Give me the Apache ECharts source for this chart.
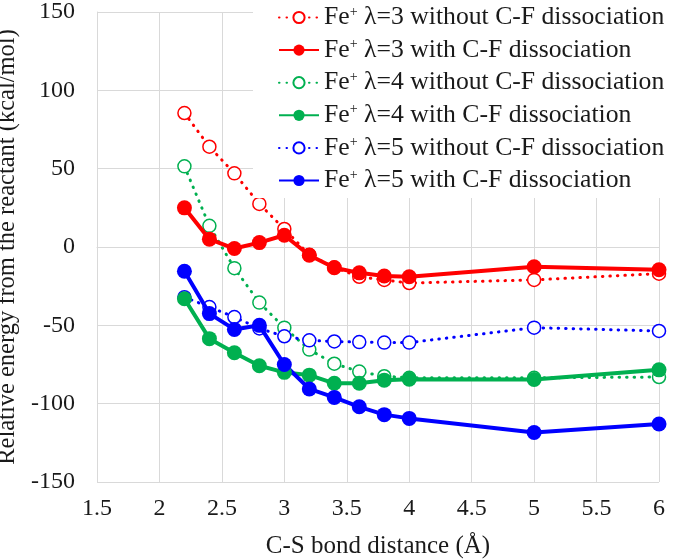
<!DOCTYPE html>
<html>
<head>
<meta charset="utf-8">
<script src="https://cdn.jsdelivr.net/npm/echarts@6/dist/echarts.min.js"></script>
<style>html,body{margin:0;padding:0;background:#fff}#c{width:685px;height:559px}</style>
</head>
<body>
<div id="c"></div>
<script>
const distances = [2.2, 2.4, 2.6, 2.8, 3.0, 3.2, 3.4, 3.6, 3.8, 4.0, 5.0, 6.0];
const l3Without = [85.5, 64, 47, 27.5, 11.5, -5, -13, -19, -21, -23, -21, -17];
const l3With    = [25, 5, -1, 2.8, 7.5, -5.3, -13.2, -16.5, -18.5, -19, -12.6, -14.5];
const l4Without = [51.5, 13.5, -13.5, -35.5, -51.5, -65.5, -74.5, -79.5, -82.5, -83.5, -83.5, -83];
const l4With    = [-33, -58.5, -67.5, -75.8, -80, -81.8, -87, -87, -85, -84.4, -84.6, -78.4];
const l5Without = [-32, -38.3, -44.7, -52, -57, -59.6, -60.3, -60.7, -61, -61, -51.5, -53.6];
const l5With    = [-15.5, -42.5, -52.6, -50, -75, -90.6, -96, -102, -107, -109.4, -118.4, -113];
const seriesNames = [
  'Fe+ λ=3 without C-F dissociation',
  'Fe+ λ=3 with C-F dissociation',
  'Fe+ λ=4 without C-F dissociation',
  'Fe+ λ=4 with C-F dissociation',
  'Fe+ λ=5 without C-F dissociation',
  'Fe+ λ=5 with C-F dissociation'
];
const xTicks = {min: 1.5, max: 6, step: 0.5};
const yTicks = {min: -150, max: 150, step: 50};

const RED = '#ff0000', GREEN = '#00b050', BLUE = '#0000ff';
const FONT = '"Liberation Serif", "Times New Roman", serif';
const TXT = '#1a1a1a';
function pairs(vals){ return distances.map((d,i)=>[d, vals[i]]); }
function dotted(name, vals, color){
  return {
    name, type:'line', data: pairs(vals), symbol:'circle', symbolSize: 13,
    itemStyle:{color:'#ffffff', borderColor: color, borderWidth: 1.5},
    lineStyle:{color, width: 3, type:[0.5, 7], cap:'round'},
    z: 2
  };
}
function solid(name, vals, color){
  return {
    name, type:'line', data: pairs(vals), symbol:'circle', symbolSize: 15,
    itemStyle:{color, borderColor: color, borderWidth: 0},
    lineStyle:{color, width: 4, type:'solid'},
    z: 3
  };
}
const chart = echarts.init(document.getElementById('c'));
chart.setOption({
  animation:false,
  backgroundColor:'#ffffff',
  grid:{left:97, right:26, top:12, bottom:77, containLabel:false, outerBoundsMode:'none'},
  legend:{
    orient:'vertical', left:253, top:0, itemGap:6.6,
    itemWidth:40, itemHeight:14,
    backgroundColor:'#ffffff', padding:[4.5,12,4.5,25],
    data: seriesNames,
    formatter: function(n){
      const rest = n.replace('Fe+ ', '');
      return '{fe|Fe}{sup|+}{sp| }{t|' + rest + '}';
    },
    textStyle:{
      fontFamily: FONT, fontSize: 25.7, color:TXT, lineHeight:25,
      rich:{
        fe:{fontFamily: FONT, fontSize:25.7, color:TXT, lineHeight:25},
        sup:{fontFamily: FONT, fontSize:14, color:TXT, verticalAlign:'top', padding:[0,0,11,0]},
        sp:{fontFamily: FONT, fontSize:25.7, lineHeight:25},
        t:{fontFamily: FONT, fontSize:25.7, color:TXT, lineHeight:25}
      }
    }
  },
  xAxis:{
    type:'value', min:xTicks.min, max:xTicks.max, interval:xTicks.step,
    name:'C-S bond distance (Å)', nameLocation:'middle', nameGap:52,
    nameTextStyle:{fontFamily:FONT, fontSize:25, color:TXT},
    axisLine:{show:true, lineStyle:{color:'#d9d9d9', width:1}},
    axisTick:{show:false},
    axisLabel:{fontFamily:FONT, fontSize:24, color:TXT, margin:15},
    splitLine:{show:true, lineStyle:{color:'#d9d9d9', width:1}}
  },
  yAxis:{
    type:'value', min:yTicks.min, max:yTicks.max, interval:yTicks.step,
    name:'Relative energy from the reactant (kcal/mol)', nameLocation:'middle', nameGap:63,
    nameTextStyle:{fontFamily:FONT, fontSize:24.5, color:TXT},
    axisLine:{show:true, lineStyle:{color:'#d9d9d9', width:1}},
    axisTick:{show:false},
    axisLabel:{fontFamily:FONT, fontSize:24, color:TXT, margin:22},
    splitLine:{show:true, lineStyle:{color:'#d9d9d9', width:1}}
  },
  series:[
    dotted(seriesNames[0], l3Without, RED),
    solid(seriesNames[1], l3With, RED),
    dotted(seriesNames[2], l4Without, GREEN),
    solid(seriesNames[3], l4With, GREEN),
    dotted(seriesNames[4], l5Without, BLUE),
    solid(seriesNames[5], l5With, BLUE)
  ]
});
</script>
</body>
</html>
